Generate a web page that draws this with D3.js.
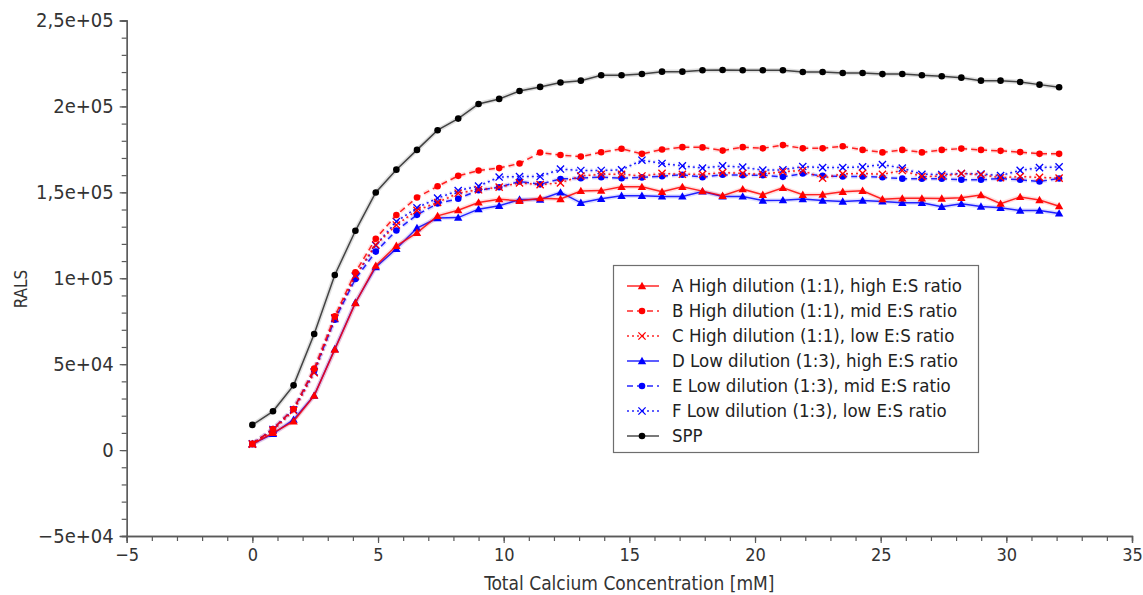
<!DOCTYPE html>
<html>
<head>
<meta charset="utf-8">
<script src="https://cdn.jsdelivr.net/npm/d3@7/dist/d3.min.js"></script>
<style>
  html, body { margin: 0; padding: 0; background: #ffffff; }
  svg { display: block; }
  text { font-family: 'DejaVu Sans Condensed', 'DejaVu Sans', sans-serif; font-stretch: condensed; }
</style>
</head>
<body>
<svg id="chart" width="1143" height="595"></svg>
<script>
// Total calcium concentration (mM) at each titration step
const calcium = [0, 0.82, 1.64, 2.46, 3.28, 4.10, 4.91, 5.73, 6.55, 7.37, 8.19, 9.00, 9.82, 10.63, 11.45,
  12.26, 13.07, 13.88, 14.69, 15.50, 16.30, 17.11, 17.91, 18.71, 19.51, 20.31, 21.11, 21.90, 22.69,
  23.49, 24.28, 25.07, 25.86, 26.64, 27.43, 28.21, 28.99, 29.77, 30.55, 31.32, 32.10];

// RALS signal per sample
const seriesA = [3500, 10000, 16750, 31700, 58500, 85600, 107300, 118900, 126450, 136300, 139600, 144100,
  146000, 145000, 146600, 146100, 150800, 151000, 153200, 153200, 150300, 153200, 150700, 148000, 151850,
  148550, 152600, 148550, 148750, 150300, 150900, 146000, 146500, 146500, 146400, 146800, 148450, 143400,
  147300, 145550, 141950];
const seriesB = [3600, 12300, 23950, 47400, 77800, 103500, 123000, 136800, 147000, 153500, 159600, 162700,
  164100, 166800, 173150, 171700, 170800, 173300, 175350, 172400, 174900, 176300, 176150, 174300, 176300,
  175600, 177500, 175600, 175600, 176800, 174700, 173250, 174700, 173250, 174700, 175450, 174700, 174150,
  173400, 172400, 172400];
const seriesC = [3500, 11500, 23000, 45000, 77000, 101500, 119500, 131000, 139500, 144100, 149500, 151500,
  153000, 155500, 154500, 155500, 159500, 160500, 160500, 159500, 161000, 160500, 160500, 161500, 161000,
  160500, 162000, 162700, 158250, 160750, 161000, 160500, 162700, 159200, 159400, 160950, 160200, 158500,
  159200, 158700, 158250];
const seriesD = [3500, 9500, 17700, 31700, 58800, 85900, 106500, 117150, 129200, 135000, 135300, 140200,
  142150, 145800, 145800, 150000, 143900, 146200, 148000, 148000, 147600, 147600, 150500, 147600, 147600,
  145250, 145450, 146100, 145250, 144650, 145250, 144700, 143900, 143900, 141600, 143300, 141750, 141000,
  139400, 139400, 137700];
const seriesE = [3600, 12300, 23950, 46300, 75900, 99600, 115500, 127800, 136900, 143500, 146300, 151250,
  153000, 156300, 154650, 157800, 158250, 158850, 158250, 158700, 159400, 160200, 158850, 160200, 160000,
  160000, 159000, 160950, 159600, 159200, 159200, 158750, 157950, 157950, 157950, 157300, 157300, 158050,
  157300, 156300, 158050];
const seriesF = [3600, 12000, 23500, 45500, 76500, 101000, 119100, 133000, 141000, 146600, 151050, 153600,
  158900, 159200, 159200, 163550, 162700, 162700, 163100, 168700, 166800, 165400, 164100, 165400, 164650,
  162900, 163100, 165000, 164400, 164400, 164800, 166100, 164100, 160500, 160400, 160950, 160700, 159700,
  162800, 164400, 164800];
const seriesSPP = [14650, 22560, 37670, 67560, 101860, 127620, 149890, 163200, 174700, 186160, 192900,
  201450, 204360, 209000, 211350, 213950, 215000, 218150, 218150, 218900, 220240, 220240, 221050, 221200,
  221050, 221050, 221050, 220060, 220060, 219480, 219480, 218800, 218900, 218150, 217560, 216750, 215000,
  215000, 214250, 212680, 211170];

const seriesNames = [
  "A High dilution (1:1), high E:S ratio",
  "B High dilution (1:1), mid E:S ratio",
  "C High dilution (1:1), low E:S ratio",
  "D Low dilution (1:3), high E:S ratio",
  "E Low dilution (1:3), mid E:S ratio",
  "F Low dilution (1:3), low E:S ratio",
  "SPP"
];

const xTicks = [-5, 0, 5, 10, 15, 20, 25, 30, 35];
const xTickLabels = ["\u22125", "0", "5", "10", "15", "20", "25", "30", "35"];
const yTicks = [-50000, 0, 50000, 100000, 150000, 200000, 250000];
const yTickLabels = ["\u22125e+04", "0", "5e+04", "1e+05", "1,5e+05", "2e+05", "2,5e+05"];

const xTitle = "Total Calcium Concentration [mM]";
const yTitle = "RALS";

// Styling for each series: colour, dash pattern and marker shape
const styles = [
  { color: "#ff0000", dash: null,  marker: "triangle" },
  { color: "#ff0000", dash: "6,4", marker: "circle" },
  { color: "#ff0000", dash: "2,3", marker: "cross" },
  { color: "#0000ff", dash: null,  marker: "triangle" },
  { color: "#0000ff", dash: "6,4", marker: "circle" },
  { color: "#0000ff", dash: "2,3", marker: "cross" },
  { color: "#000000", dash: null,  marker: "circle" }
];

const values = [seriesA, seriesB, seriesC, seriesD, seriesE, seriesF, seriesSPP];
const series = values.map((v, k) => ({
  name: seriesNames[k],
  style: styles[k],
  points: v.map((y, i) => ({ x: calcium[i], y }))
}));

const svg = d3.select("#chart");
const axisColor = "#5a5a5a";
const textColor = "#333333";

const x = d3.scaleLinear().domain([-5, 35]).range([126.7, 1132]);
const y = d3.scaleLinear().domain([-50000, 250000]).range([536, 20.5]);

// Axes: minor ticks first, then labelled major ticks
const xMinor = d3.range(-5, 35.001, 1);
const yMinor = d3.range(-50000, 250001, 10000);

const gx = svg.append("g").attr("transform", `translate(0,${y(-50000)})`);
gx.call(d3.axisBottom(x).tickValues(xMinor).tickSize(5).tickFormat(""));
gx.append("g").call(d3.axisBottom(x).tickValues(xTicks).tickSize(7).tickPadding(5)
  .tickFormat((d, i) => xTickLabels[i]));

const gy = svg.append("g").attr("transform", `translate(${x(-5)},0)`);
gy.call(d3.axisLeft(y).tickValues(yMinor).tickSize(5).tickFormat(""));
gy.append("g").call(d3.axisLeft(y).tickValues(yTicks).tickSize(7).tickPadding(6)
  .tickFormat((d, i) => yTickLabels[i]));

svg.selectAll(".domain").attr("stroke", axisColor).attr("stroke-width", 1.3);
svg.selectAll(".tick line").attr("stroke", axisColor).attr("stroke-width", 1.2);
svg.selectAll(".tick text").attr("fill", textColor).style("font-size", "20px");
gx.selectAll(".tick text").attr("dy", "0.71em").style("font-size", "18px");

svg.append("text")
  .attr("x", (x(-5) + x(35)) / 2).attr("y", 590)
  .attr("text-anchor", "middle").attr("fill", textColor).style("font-size", "19px")
  .text(xTitle);

svg.append("text")
  .attr("transform", `translate(27,289) rotate(-90)`)
  .attr("text-anchor", "middle").attr("fill", textColor).style("font-size", "17px")
  .text(yTitle);

// Marker drawing helper
function drawMarker(g, shape, color, cx, cy) {
  if (shape === "circle") {
    g.append("circle").attr("cx", cx).attr("cy", cy).attr("r", 3.3).attr("fill", color);
  } else if (shape === "triangle") {
    const s = 4.2;
    g.append("path")
      .attr("d", `M${cx},${cy - s}L${cx + s},${cy + s * 0.75}L${cx - s},${cy + s * 0.75}Z`)
      .attr("fill", color);
  } else {
    const s = 3.6;
    g.append("path")
      .attr("d", `M${cx - s},${cy - s}L${cx + s},${cy + s}M${cx - s},${cy + s}L${cx + s},${cy - s}`)
      .attr("stroke", color).attr("stroke-width", 1.3).attr("fill", "none");
  }
}

const line = d3.line().x(d => x(d.x)).y(d => y(d.y));
const plot = svg.append("g");

// Draw the series in reverse so the first ones sit on top
series.slice().reverse().forEach(s => {
  const g = plot.append("g");
  g.append("path").datum(s.points)
    .attr("d", line).attr("fill", "none")
    .attr("stroke", s.style.color).attr("stroke-opacity", 0.12).attr("stroke-width", 4.5)
    .attr("stroke-dasharray", s.style.dash);
  g.append("path").datum(s.points)
    .attr("d", line).attr("fill", "none")
    .attr("stroke", s.style.color).attr("stroke-opacity", s.style.color === "#000000" ? 0.7 : 0.85)
    .attr("stroke-width", 1.5)
    .attr("stroke-dasharray", s.style.dash);
  s.points.forEach(p => drawMarker(g, s.style.marker, s.style.color, x(p.x), y(p.y)));
});

// Legend
const legend = svg.append("g");
legend.append("rect")
  .attr("x", 613.5).attr("y", 265.5).attr("width", 365).attr("height", 187)
  .attr("fill", "#ffffff").attr("stroke", "#6e6e6e").attr("stroke-width", 1.2);

series.forEach((s, k) => {
  const ry = 286 + k * 25;
  legend.append("line")
    .attr("x1", 627).attr("x2", 659).attr("y1", ry).attr("y2", ry)
    .attr("stroke", s.style.color).attr("stroke-width", 1.5)
    .attr("stroke-opacity", s.style.color === "#000000" ? 0.7 : 0.85)
    .attr("stroke-dasharray", s.style.dash);
  drawMarker(legend, s.style.marker, s.style.color, 642, ry);
  legend.append("text")
    .attr("x", 672).attr("y", ry).attr("dy", "0.35em")
    .attr("fill", "#222222").style("font-size", "18.5px")
    .text(s.name);
});
</script>
</body>
</html>
